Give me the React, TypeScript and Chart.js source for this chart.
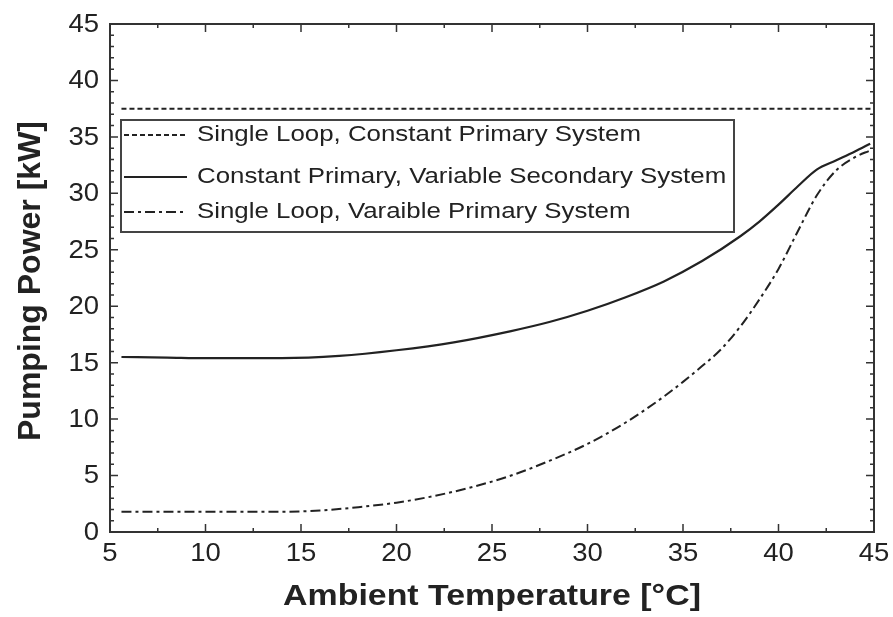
import React, { useEffect, useRef } from "react";
import { Chart, registerables } from "chart.js";

Chart.register(...registerables);

// Ambient temperature samples [°C] and pumping power [kW] for each system
const constantPrimaryTemps = [5.6, 45];
const constantPrimaryPower = [37.5, 37.5];

const secondaryTemps = [5.6, 8, 10, 12, 14, 17, 20, 23, 26, 28, 30, 32, 34, 36, 38, 39, 40, 41, 42, 43, 44, 44.8];
const secondaryPower = [15.5, 15.45, 15.4, 15.4, 15.4, 15.6, 16.1, 16.8, 17.8, 18.6, 19.6, 20.8, 22.2, 24.0, 26.2, 27.5, 29.0, 30.6, 32.1, 32.9, 33.7, 34.4];

const variableTemps = [5.6, 8, 10, 12, 14, 16, 18, 20, 22, 24, 26, 28, 30, 32, 34, 35, 36, 37, 38, 39, 40, 41, 42, 43, 44, 44.8];
const variablePower = [1.8, 1.8, 1.8, 1.8, 1.8, 1.9, 2.2, 2.6, 3.2, 4.0, 5.0, 6.3, 7.8, 9.7, 12.0, 13.3, 14.7, 16.2, 18.2, 20.6, 23.3, 26.6, 29.8, 32.0, 33.2, 33.8];

const seriesLabels = [
  "Single Loop, Constant Primary System",
  "Constant Primary, Variable Secondary System",
  "Single Loop, Varaible Primary System",
];

const xTicks = [5, 10, 15, 20, 25, 30, 35, 40, 45];
const yTicks = [0, 5, 10, 15, 20, 25, 30, 35, 40, 45];
const xTitle = "Ambient Temperature [°C]";
const yTitle = "Pumping Power [kW]";

const INK = "#222";
const FONT = "Liberation Sans, Arial, sans-serif";

const toPoints = (xs: number[], ys: number[]) => xs.map((x, i) => ({ x, y: ys[i] }));

// Text drawn with a slight horizontal widening, like the typeface of the figure
function wideText(ctx: CanvasRenderingContext2D, text: string, x: number, y: number, sx: number) {
  ctx.save();
  ctx.translate(x, y);
  ctx.scale(sx, 1);
  ctx.fillText(text, 0, 0);
  ctx.restore();
}

// Frame with inward ticks on all four sides, tick labels, axis titles and the boxed legend
const framePlugin = {
  id: "frameAndLegend",
  afterDatasetsDraw(chart: any) {
    const { ctx, chartArea: a, scales } = chart;
    const xs = scales.x;
    const ys = scales.y;
    ctx.save();
    ctx.strokeStyle = "#333";
    ctx.lineWidth = 2;
    ctx.setLineDash([]);
    ctx.strokeRect(a.left, a.top, a.right - a.left, a.bottom - a.top);

    ctx.lineWidth = 1.5;
    // x ticks: major every 5, minor every 2.5
    for (let v = 5; v <= 45.001; v += 2.5) {
      const px = xs.getPixelForValue(v);
      const major = Math.abs(v % 5) < 1e-6;
      const len = major ? 8 : 4;
      ctx.beginPath();
      ctx.moveTo(px, a.bottom);
      ctx.lineTo(px, a.bottom - len);
      ctx.moveTo(px, a.top);
      ctx.lineTo(px, a.top + len);
      ctx.stroke();
    }
    // y ticks: major every 5, minor every 1
    for (let v = 0; v <= 45.001; v += 1) {
      const py = ys.getPixelForValue(v);
      const major = v % 5 === 0;
      const len = major ? 8 : 4;
      ctx.beginPath();
      ctx.moveTo(a.left, py);
      ctx.lineTo(a.left + len, py);
      ctx.moveTo(a.right, py);
      ctx.lineTo(a.right - len, py);
      ctx.stroke();
    }

    // tick labels
    ctx.fillStyle = INK;
    ctx.font = `25px ${FONT}`;
    ctx.textBaseline = "middle";
    ctx.textAlign = "center";
    xTicks.forEach((v) => wideText(ctx, String(v), xs.getPixelForValue(v), a.bottom + 22, 1.1));
    ctx.textAlign = "right";
    yTicks.forEach((v) => wideText(ctx, String(v), a.left - 11, ys.getPixelForValue(v) + 1, 1.1));

    // axis titles
    ctx.font = `bold 30px ${FONT}`;
    ctx.textAlign = "center";
    ctx.textBaseline = "alphabetic";
    wideText(ctx, xTitle, (a.left + a.right) / 2, 605, 1.13);
    ctx.save();
    ctx.font = `bold 32px ${FONT}`;
    ctx.translate(40, (a.top + a.bottom) / 2 + 3);
    ctx.rotate(-Math.PI / 2);
    ctx.fillText(yTitle, 0, 0);
    ctx.restore();

    // legend box
    const lx = a.left + 11;
    const ly = a.top + 96;
    const lw = 613;
    const lh = 112;
    ctx.fillStyle = "#fff";
    ctx.fillRect(lx, ly, lw, lh);
    ctx.lineWidth = 2;
    ctx.strokeStyle = "#444";
    ctx.strokeRect(lx, ly, lw, lh);

    const rows = [ly + 15, ly + 57, ly + 92];
    ctx.font = `22px ${FONT}`;
    ctx.textBaseline = "middle";
    ctx.textAlign = "left";
    chart.data.datasets.forEach((ds: any, i: number) => {
      const y = rows[i];
      ctx.strokeStyle = INK;
      ctx.lineWidth = 2;
      ctx.setLineDash(ds.borderDash || []);
      ctx.beginPath();
      ctx.moveTo(lx + 3, y);
      ctx.lineTo(lx + 66, y);
      ctx.stroke();
      ctx.setLineDash([]);
      ctx.fillStyle = INK;
      wideText(ctx, ds.label, lx + 76, y, 1.175);
    });
    ctx.restore();
  },
};

export default function App() {
  const canvasRef = useRef<HTMLCanvasElement>(null);

  useEffect(() => {
    document.body.style.margin = "0";
    const chart = new Chart(canvasRef.current!, {
      type: "line",
      data: {
        datasets: [
          {
            label: seriesLabels[0],
            data: toPoints(constantPrimaryTemps, constantPrimaryPower),
            borderColor: INK,
            borderWidth: 2,
            borderDash: [5, 3],
            pointRadius: 0,
          },
          {
            label: seriesLabels[1],
            data: toPoints(secondaryTemps, secondaryPower),
            borderColor: INK,
            borderWidth: 2.2,
            pointRadius: 0,
            cubicInterpolationMode: "monotone",
          },
          {
            label: seriesLabels[2],
            data: toPoints(variableTemps, variablePower),
            borderColor: INK,
            borderWidth: 2,
            borderDash: [10, 4, 3, 4],
            pointRadius: 0,
            cubicInterpolationMode: "monotone",
          },
        ],
      },
      options: {
        animation: false,
        responsive: false,
        layout: { padding: { top: 24, right: 19, left: 0, bottom: 0 } },
        plugins: { legend: { display: false }, tooltip: { enabled: false } },
        scales: {
          x: {
            type: "linear",
            min: 5,
            max: 45,
            afterBuildTicks: (s: any) => {
              s.ticks = xTicks.map((v) => ({ value: v }));
            },
            afterFit: (s: any) => {
              s.height = 85;
            },
            grid: { display: false, drawTicks: false },
            border: { display: false },
            ticks: { display: false },
            title: { display: false },
          },
          y: {
            type: "linear",
            min: 0,
            max: 45,
            afterBuildTicks: (s: any) => {
              s.ticks = yTicks.map((v) => ({ value: v }));
            },
            afterFit: (s: any) => {
              s.width = 110;
            },
            grid: { display: false, drawTicks: false },
            border: { display: false },
            ticks: { display: false },
            title: { display: false },
          },
        },
      },
      plugins: [framePlugin],
    });
    return () => chart.destroy();
  }, []);

  return (
    <div style={{ position: "fixed", left: 0, top: 0, width: 893, height: 617, background: "#fff" }}>
      <canvas ref={canvasRef} width={893} height={617} />
    </div>
  );
}
